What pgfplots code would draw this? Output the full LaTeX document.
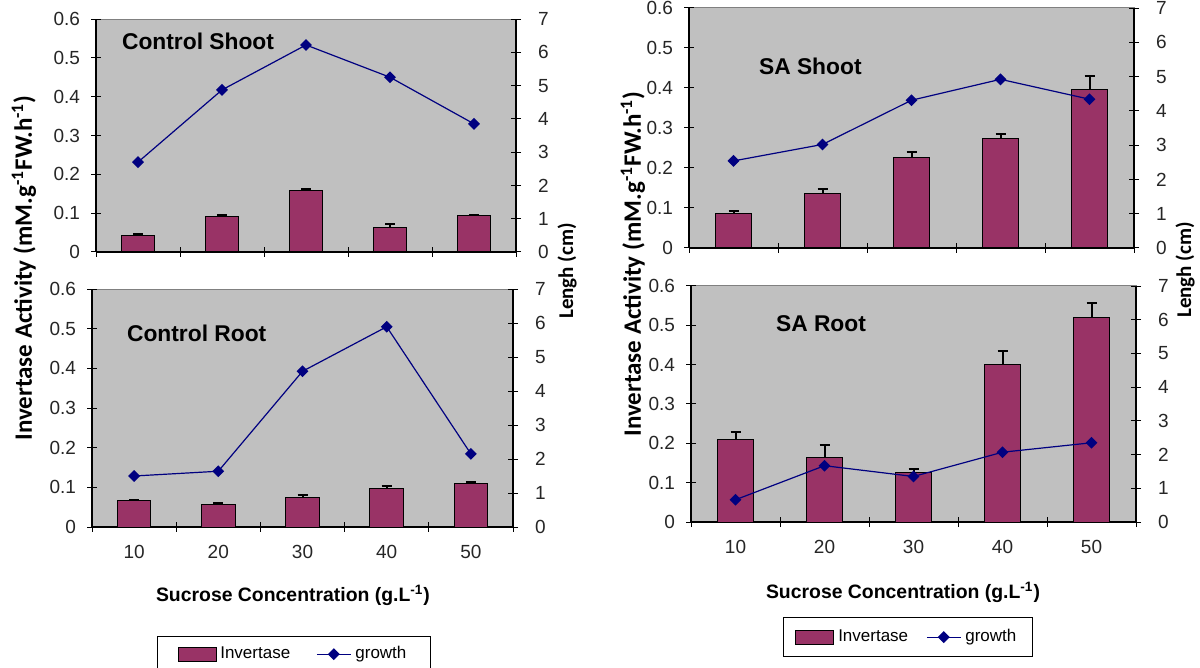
\documentclass[border=0pt]{standalone}
\usepackage{fontspec}
\setmainfont{Liberation Sans}
\newfontfamily\calib{Carlito}
\usepackage{pgfplots}
\pgfplotsset{compat=1.18}

\definecolor{plum}{HTML}{993366}
\definecolor{plotgray}{HTML}{C0C0C0}
\definecolor{navyline}{HTML}{000080}

\pgfplotsset{
  panel/.style={scale only axis, anchor=south west, xmin=0.5, xmax=5.5,
    tick align=center, major tick length=5bp, minor tick length=5bp,
    tick style={black, line width=0.5bp},
    axis line style={black, line width=0.6bp},
    ticklabel style={font=\fontsize{9.5bp}{11bp}\selectfont, text=black!85},
    /pgf/number format/assume math mode=true},
  barax/.style={panel, ymin=0, ymax=0.6, ytick={0,0.1,0.2,0.3,0.4,0.5,0.6},
    axis x line*=bottom, axis y line*=left,
    axis background/.style={fill=plotgray, draw=gray, line width=0.5bp},
    xtick={1,2,3,4,5}, minor xtick={0.5,1.5,2.5,3.5,4.5,5.5},
    major x tick style={draw=none},
    xticklabels={10,20,30,40,50},
    xticklabel style={yshift=-3bp}, yticklabel style={xshift=-2bp}},
  lineax/.style={panel, ymin=0, ymax=7, ytick={0,1,2,3,4,5,6,7},
    axis x line=none, axis y line*=right, xtick=\empty,
    yticklabel style={xshift=5bp}},
  bars/.style={ybar, bar width=0.4, fill=plum, draw=black, line width=0.5bp,
    error bars/.cd, y dir=plus, y explicit,
    error bar style={line width=1bp, black},
    error mark options={rotate=90, mark size=2.5bp, line width=1bp, black}},
  growth/.style={navyline, line width=0.6bp, mark=square*, mark size=1.8bp,
    mark options={rotate=45, fill=navyline, draw=navyline}},
  leg/.style={legend columns=2,
    legend style={draw=black, line width=0.5bp, anchor=north west,
      font=\fontsize{8.5bp}{10bp}\selectfont,
      /tikz/every even column/.append style={column sep=#1}}},
}

\begin{document}
\begin{tikzpicture}
\useasboundingbox (0,0) rectangle (600bp,334bp);

% Control Shoot
\begin{axis}[barax, at={(48bp,208bp)}, width=210bp, height=116.5bp, xticklabels={,,,,}]
\addplot[bars] table[x=x, y=y, y error=e] {
x y e
1 0.043 0.004
2 0.091 0.004
3 0.158 0.004
4 0.063 0.009
5 0.093 0.001
};
\end{axis}
\begin{axis}[lineax, at={(48bp,208bp)}, width=210bp, height=116.5bp]
\addplot[growth] coordinates {(1,2.70) (2,4.87) (3,6.22) (4,5.25) (5,3.85)};
\end{axis}

% Control Root
\begin{axis}[barax, at={(46bp,70.5bp)}, width=210.5bp, height=119bp]
\addplot[bars] table[x=x, y=y, y error=e] {
x y e
1 0.066 0.003
2 0.056 0.005
3 0.074 0.006
4 0.097 0.006
5 0.110 0.004
};
\end{axis}
\begin{axis}[lineax, leg=11bp, at={(46bp,70.5bp)}, width=210.5bp, height=119bp,
  legend style={at={(0.1544,-0.458)}, inner xsep=10bp, inner ysep=3bp}]
\addlegendimage{legend image code/.code={\draw[fill=plum, draw=black, line width=0.4bp] (0bp,-3.5bp) rectangle (19bp,3.5bp);}}
\addlegendentry{Invertase}
\addplot[growth] coordinates {(1,1.50) (2,1.64) (3,4.58) (4,5.89) (5,2.15)};
\addlegendentry{growth}
\end{axis}

% SA Shoot
\begin{axis}[barax, at={(344.5bp,210bp)}, width=222.5bp, height=120bp, xticklabels={,,,,}]
\addplot[bars] table[x=x, y=y, y error=e] {
x y e
1 0.085 0.008
2 0.137 0.010
3 0.225 0.016
4 0.274 0.010
5 0.396 0.035
};
\end{axis}
\begin{axis}[lineax, at={(344.5bp,210bp)}, width=222.5bp, height=120bp]
\addplot[growth] coordinates {(1,2.54) (2,3.02) (3,4.31) (4,4.92) (5,4.34)};
\end{axis}

% SA Root
\begin{axis}[barax, at={(345.5bp,73bp)}, width=222.5bp, height=118bp]
\addplot[bars] table[x=x, y=y, y error=e] {
x y e
1 0.210 0.020
2 0.163 0.032
3 0.126 0.009
4 0.400 0.036
5 0.520 0.037
};
\end{axis}
\begin{axis}[lineax, leg=7bp, at={(345.5bp,73bp)}, width=222.5bp, height=118bp,
  legend style={at={(0.2067,-0.4025)}, inner xsep=6bp, inner ysep=4bp}]
\addlegendimage{legend image code/.code={\draw[fill=plum, draw=black, line width=0.4bp] (0bp,-3.5bp) rectangle (19bp,3.5bp);}}
\addlegendentry{Invertase}
\addplot[growth] coordinates {(1,0.66) (2,1.67) (3,1.35) (4,2.07) (5,2.35)};
\addlegendentry{growth}
\end{axis}

% panel titles
\begin{scope}[every node/.style={anchor=base west, font=\bfseries\fontsize{11.4bp}{13bp}\selectfont}]
\node at (57.5bp,309bp) {Control Shoot};
\node at (60bp,163bp) {Control Root};
\node at (376bp,296.5bp) {SA Shoot};
\node at (384.5bp,168bp) {SA Root};
\end{scope}

% axis titles
\begin{scope}[every node/.style={font=\calib\bfseries\fontsize{12.5bp}{14bp}\selectfont}]
\node[rotate=90] at (12bp,200bp) {Invertase Activity (mM.g\textsuperscript{-1}FW.h\textsuperscript{-1})};
\node[rotate=90] at (316.5bp,202bp) {Invertase Activity (mM.g\textsuperscript{-1}FW.h\textsuperscript{-1})};
\node[rotate=90, font=\calib\bfseries\fontsize{10.5bp}{12bp}\selectfont] at (283.5bp,198.5bp) {Lengh (cm)};
\node[rotate=90, font=\calib\bfseries\fontsize{10.5bp}{12bp}\selectfont] at (592.5bp,199bp) {Lengh (cm)};
\end{scope}
\begin{scope}[every node/.style={font=\bfseries\fontsize{9.7bp}{12bp}\selectfont}]
\node at (146.5bp,36.5bp) {Sucrose Concentration (g.L\textsuperscript{-1})};
\node at (451.5bp,38bp) {Sucrose Concentration (g.L\textsuperscript{-1})};
\end{scope}
\end{tikzpicture}
\end{document}
